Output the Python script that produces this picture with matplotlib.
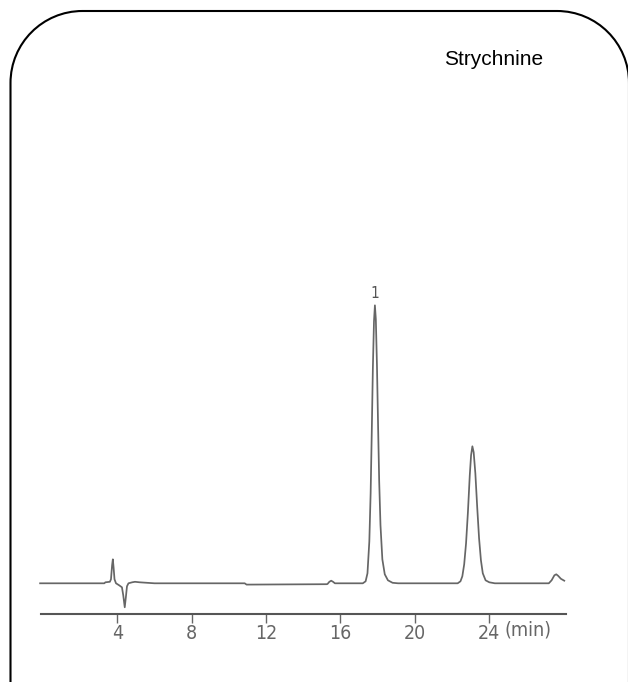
import matplotlib
matplotlib.use("Agg")
import matplotlib.pyplot as plt
from matplotlib.path import Path
from matplotlib.patches import PathPatch
from matplotlib import font_manager

# ---- data ----
title = "Strychnine"
peak_label = "1"
peak_label_time = 17.85
peak_label_height = 290

tick_values = [4, 8, 12, 16, 20, 24]
tick_labels = ["4", "8", "12", "16", "20", "24"]
unit_label = "(min)"

trace_time = [
    -0.15, 3.30, 3.36, 3.60, 3.66, 3.72, 3.76, 3.80, 3.85, 3.93,
    4.10, 4.25, 4.32, 4.40, 4.46, 4.52, 4.60, 4.80, 4.95, 5.20,
    5.60, 6.00, 10.85, 10.95, 15.25, 15.30, 15.40, 15.50, 15.60, 15.70,
    17.20, 17.35, 17.45, 17.55, 17.62, 17.68, 17.74, 17.80, 17.85, 17.90,
    17.96, 18.02, 18.08, 18.15, 18.25, 18.38, 18.55, 18.80, 19.10, 22.30,
    22.45, 22.55, 22.65, 22.75, 22.85, 22.95, 23.02, 23.09, 23.16, 23.25,
    23.35, 23.45, 23.55, 23.65, 23.80, 24.00, 24.30, 27.20, 27.35, 27.50,
    27.60, 27.70, 27.85, 28.03,
]
trace_signal = [
    0, 0, 1, 1.5, 4, 18, 24, 16, 4, 0,
    -2, -4, -12, -24, -14, -3, 0, 1, 1.5, 1,
    0.5, 0, 0, -1.3, -0.9, -0.7, 1.5, 2.6, 1.5, 0,
    0, 2, 10, 42, 90, 150, 215, 262, 278, 264,
    218, 158, 102, 58, 24, 9, 3, 0.5, 0, 0,
    2, 7, 19, 40, 71, 108, 128, 137, 131, 110,
    76, 45, 23, 10, 3, 1, 0, 0, 3, 8,
    9, 7.5, 4.5, 2.6,
]

# ---- figure ----
W, H = 628, 682
fig = plt.figure(figsize=(W / 100, H / 100), dpi=100)

names = {f.name for f in font_manager.fontManager.ttflist}
narrow = "Liberation Sans Narrow" if "Liberation Sans Narrow" in names else "DejaVu Sans"
lab_font = dict(family=[narrow, "DejaVu Sans"], fontstretch="condensed")

# axes spanning the whole figure; 1 min = 18.6 px, 1 signal unit = 1 px
x0_px, px_per_min, base_px = 42.9, 18.6, 583.3
ax = fig.add_axes([0, 0, 1, 1])
ax.set_xlim(-x0_px / px_per_min, (W - x0_px) / px_per_min)
ax.set_ylim(-(H - base_px), base_px)
ax.patch.set_alpha(0)

ax.plot(trace_time, trace_signal, color="#666666", lw=1.25, solid_joinstyle="round")

for s in ["left", "right", "top"]:
    ax.spines[s].set_visible(False)
ax.spines["bottom"].set_position(("data", base_px - 614))
ax.spines["bottom"].set_bounds(-0.12, 28.1)
ax.spines["bottom"].set_color("#555555")
ax.spines["bottom"].set_linewidth(1.5)
ax.set_yticks([])
ax.set_xticks(tick_values)
ax.set_xticklabels(tick_labels, fontsize=14, color="#666666", **lab_font)
ax.tick_params(axis="x", direction="out", length=6.5, width=1.0, color="#666666", pad=1)

ax.text(26.08, base_px - 630.5, unit_label, ha="center", va="center",
        fontsize=14, color="#666666", **lab_font)
ax.text(peak_label_time, peak_label_height, peak_label, ha="center", va="center",
        fontsize=11, color="#555555", **lab_font)

# title
fig.text(543 / W, 1 - 65 / H, title, ha="right", va="baseline",
         family=["Liberation Sans", "DejaVu Sans"], fontsize=15, color="black")

# rounded frame (top corners rounded, open at the bottom)
k = 0.5523
lx, rx, ty = 10.5, 629.0, 11.0
r1, r2 = 72.0, 72.0
pts = [
    (lx, H + 5), (lx, ty + r1),
    (lx, ty + r1 - k * r1), (lx + r1 - k * r1, ty), (lx + r1, ty),
    (rx - r2, ty),
    (rx - r2 + k * r2, ty), (rx, ty + r2 - k * r2), (rx, ty + r2),
    (rx, H + 5),
]
codes = [Path.MOVETO, Path.LINETO,
         Path.CURVE4, Path.CURVE4, Path.CURVE4,
         Path.LINETO,
         Path.CURVE4, Path.CURVE4, Path.CURVE4,
         Path.LINETO]
verts = [(x / W, 1 - y / H) for x, y in pts]
frame = PathPatch(Path(verts, codes), transform=fig.transFigure, fill=False,
                  edgecolor="black", lw=1.5, clip_on=False)
fig.add_artist(frame)

fig.savefig("out.png", dpi=100)
